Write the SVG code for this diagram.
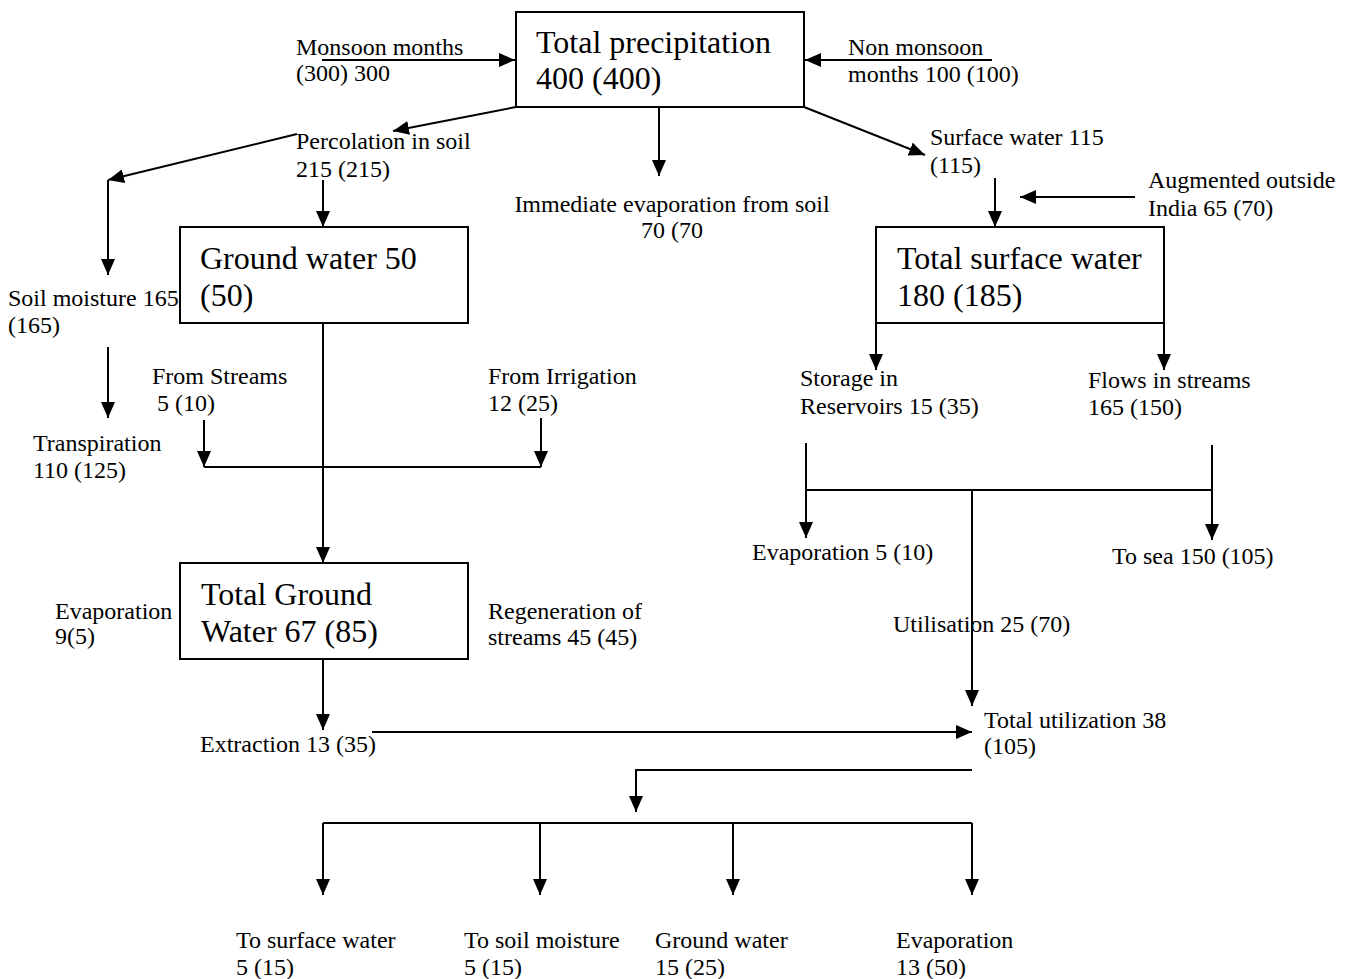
<svg xmlns="http://www.w3.org/2000/svg" width="1351" height="979" viewBox="0 0 1351 979">
  <style>
    .s { font-family: "Liberation Serif", "Times New Roman", serif; font-size: 24px; fill: #000; }
    .b { font-family: "Liberation Serif", "Times New Roman", serif; font-size: 32px; fill: #000; }
    .box { fill: #fff; stroke: #000; stroke-width: 2; }
    .ln { fill: none; stroke: #000; stroke-width: 2; }
    .ar { fill: none; stroke: #000; stroke-width: 2; marker-end: url(#head); }
  </style>
  <defs>
    <marker id="head" markerUnits="userSpaceOnUse" markerWidth="16" markerHeight="14" viewBox="0 0 16 14" refX="16" refY="7" orient="auto">
      <path d="M0,0 L16,7 L0,14 z" fill="#000"/>
    </marker>
  </defs>
  <rect width="1351" height="979" fill="#fff"/>

  <!-- connectors -->
  <g id="connectors">
    <path class="ar" d="M322,60 H515"/>
    <path class="ar" d="M992,60 H805"/>
    <path class="ar" d="M516,107 L393,131"/>
    <path class="ar" d="M297,134 L108,180"/>
    <path class="ar" d="M108,180 V275"/>
    <path class="ar" d="M659,107 V176"/>
    <path class="ar" d="M804,107 L925,155"/>
    <path class="ar" d="M995,178 V227"/>
    <path class="ar" d="M1135,197 H1020"/>
    <path class="ar" d="M323,180 V227"/>
    <path class="ar" d="M108,347 V418"/>
    <path class="ar" d="M204,420 V467"/>
    <path class="ar" d="M541,418 V467"/>
    <path class="ln" d="M204,467 H541"/>
    <path class="ar" d="M323,323 V563"/>
    <path class="ar" d="M876,323 V370"/>
    <path class="ar" d="M1164,323 V370"/>
    <path class="ln" d="M806,490 H1212"/>
    <path class="ar" d="M806,443 V538"/>
    <path class="ar" d="M1212,445 V540"/>
    <path class="ar" d="M972,490 V706"/>
    <path class="ar" d="M323,659 V730"/>
    <path class="ar" d="M372,732 H972"/>
    <path class="ar" d="M972,770 H636 V812"/>
    <path class="ln" d="M323,823 H972"/>
    <path class="ar" d="M323,823 V895"/>
    <path class="ar" d="M540,823 V895"/>
    <path class="ar" d="M733,823 V895"/>
    <path class="ar" d="M972,823 V895"/>
  </g>

  <g id="total-precipitation">
    <rect class="box" x="516" y="12" width="288" height="95"/>
    <text class="b" x="536" y="53">Total precipitation</text>
    <text class="b" x="536" y="89">400 (400)</text>
  </g>
  <g id="monsoon">
    <text class="s" x="296" y="55">Monsoon months</text>
    <text class="s" x="296" y="81">(300) 300</text>
  </g>
  <g id="non-monsoon">
    <text class="s" x="848" y="55">Non monsoon</text>
    <text class="s" x="848" y="82">months 100 (100)</text>
  </g>
  <g id="percolation">
    <text class="s" x="296" y="149">Percolation in soil</text>
    <text class="s" x="296" y="177">215 (215)</text>
  </g>
  <g id="immediate-evaporation">
    <text class="s" x="672" y="212" text-anchor="middle">Immediate evaporation from soil</text>
    <text class="s" x="672" y="238" text-anchor="middle">70 (70</text>
  </g>
  <g id="surface-water">
    <text class="s" x="930" y="145">Surface water 115</text>
    <text class="s" x="930" y="173">(115)</text>
  </g>
  <g id="augmented">
    <text class="s" x="1148" y="188">Augmented outside</text>
    <text class="s" x="1148" y="216">India 65 (70)</text>
  </g>
  <g id="ground-water">
    <rect class="box" x="180" y="227" width="288" height="96"/>
    <text class="b" x="200" y="269">Ground water 50</text>
    <text class="b" x="200" y="306">(50)</text>
  </g>
  <g id="total-surface-water">
    <rect class="box" x="876" y="227" width="288" height="96"/>
    <text class="b" x="897" y="269">Total surface water</text>
    <text class="b" x="897" y="306">180 (185)</text>
  </g>
  <g id="soil-moisture">
    <text class="s" x="8" y="306">Soil moisture 165</text>
    <text class="s" x="8" y="333">(165)</text>
  </g>
  <g id="from-streams">
    <text class="s" x="152" y="384">From Streams</text>
    <text class="s" x="157" y="411">5 (10)</text>
  </g>
  <g id="from-irrigation">
    <text class="s" x="488" y="384">From Irrigation</text>
    <text class="s" x="488" y="411">12 (25)</text>
  </g>
  <g id="storage">
    <text class="s" x="800" y="386">Storage in</text>
    <text class="s" x="800" y="414">Reservoirs 15 (35)</text>
  </g>
  <g id="flows">
    <text class="s" x="1088" y="388">Flows in streams</text>
    <text class="s" x="1088" y="415">165 (150)</text>
  </g>
  <g id="transpiration">
    <text class="s" x="33" y="451">Transpiration</text>
    <text class="s" x="33" y="478">110 (125)</text>
  </g>
  <g id="evaporation-surface">
    <text class="s" x="752" y="560">Evaporation 5 (10)</text>
  </g>
  <g id="to-sea">
    <text class="s" x="1112" y="564">To sea 150 (105)</text>
  </g>
  <g id="total-ground-water">
    <rect class="box" x="180" y="563" width="288" height="96"/>
    <text class="b" x="201" y="605">Total Ground</text>
    <text class="b" x="201" y="642">Water 67 (85)</text>
  </g>
  <g id="evaporation-ground">
    <text class="s" x="55" y="619">Evaporation</text>
    <text class="s" x="55" y="644">9(5)</text>
  </g>
  <g id="regeneration">
    <text class="s" x="488" y="619">Regeneration of</text>
    <text class="s" x="488" y="645">streams 45 (45)</text>
  </g>
  <g id="utilisation">
    <text class="s" x="893" y="632">Utilisation 25 (70)</text>
  </g>
  <g id="total-utilization">
    <text class="s" x="984" y="728">Total utilization 38</text>
    <text class="s" x="984" y="754">(105)</text>
  </g>
  <g id="extraction">
    <text class="s" x="200" y="752">Extraction 13 (35)</text>
  </g>
  <g id="to-surface-water">
    <text class="s" x="236" y="948">To surface water</text>
    <text class="s" x="236" y="975">5 (15)</text>
  </g>
  <g id="to-soil-moisture">
    <text class="s" x="464" y="948">To soil moisture</text>
    <text class="s" x="464" y="975">5 (15)</text>
  </g>
  <g id="to-ground-water">
    <text class="s" x="655" y="948">Ground water</text>
    <text class="s" x="655" y="975">15 (25)</text>
  </g>
  <g id="evaporation-use">
    <text class="s" x="896" y="948">Evaporation</text>
    <text class="s" x="896" y="975">13 (50)</text>
  </g>
</svg>
